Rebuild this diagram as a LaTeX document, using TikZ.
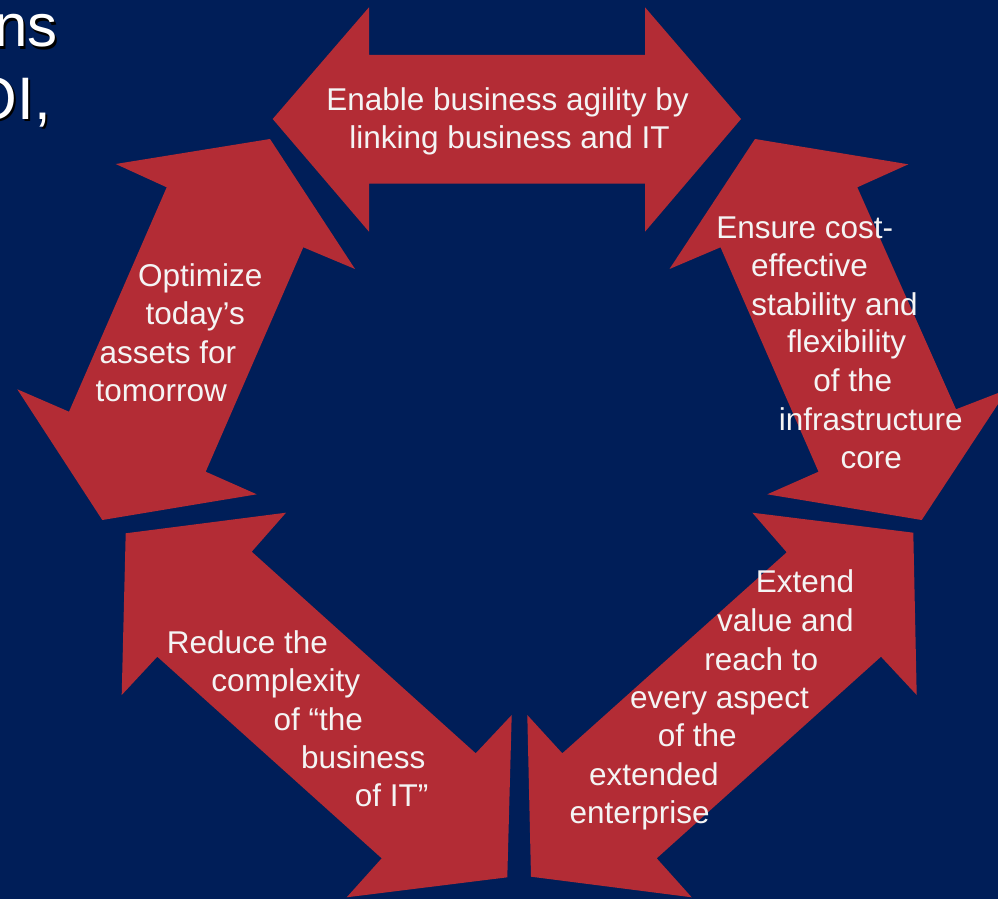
\documentclass[tikz,border=0pt]{standalone}
\usepackage{fontspec}
\setmainfont{Liberation Sans}
\definecolor{navy}{RGB}{0,30,88}
\definecolor{arrowred}{RGB}{179,44,53}
\definecolor{txt}{RGB}{244,244,244}
\begin{document}
\begin{tikzpicture}[x=1pt,y=-1pt,
  arrowshape/.style={fill=arrowred,draw=none},
  lbl/.style={text=txt,inner sep=0pt,anchor=base,font=\fontsize{31.5}{38}\selectfont},
  ttl/.style={inner sep=0pt,anchor=base east,text=white,font=\fontsize{60}{72}\selectfont},
  ttlshadow/.style={ttl,text=black}]
\fill[navy] (0,0) rectangle (998,899);
\clip (0,0) rectangle (998,899);
% title fragments
\node[ttlshadow] (t1s) at (60,49) {ns};
\node[ttl] (t1) at (58,47) {ns};
\node[ttlshadow] (t2s) at (53,121) {OI,};
\node[ttl] (t2) at (51,119) {OI,};
% arrows
\fill[arrowshape] (272.7,119) -- (369,7.3) -- (369,55) -- (645,55) -- (645,7.3) -- (741,119) -- (645,231.7) -- (645,183.7) -- (369,183.7) -- (369,231.7) -- cycle;
\fill[arrowshape] (270,139) -- (355,269) -- (303.3,247.3) -- (205.7,471.7) -- (256.7,494.3) -- (102.3,520) -- (17.3,389.3) -- (69,411.7) -- (166.7,187.3) -- (115.7,164) -- cycle;
\fill[arrowshape] (755,139) -- (908.3,164.3) -- (857.3,187.3) -- (956,409.3) -- (1007.7,389.3) -- (921.7,520) -- (767.3,494.3) -- (818.5,471.7) -- (720.5,247.3) -- (669.5,269) -- cycle;
\fill[arrowshape] (125.7,533.3) -- (286,512.7) -- (251.7,551.7) -- (475.7,753.3) -- (511.7,715) -- (507.3,877.3) -- (346.7,897.3) -- (381.7,858.3) -- (157.3,656.7) -- (121.7,695) -- cycle;
\fill[arrowshape] (913.3,532.7) -- (916.7,695) -- (881,656.7) -- (656.7,858.3) -- (691.7,897.3) -- (531,876.7) -- (527.3,715) -- (562.3,753.3) -- (786.7,552.3) -- (752.3,512.7) -- cycle;
% top label
\node[lbl] (a1) at (507.5,110) {Enable business agility by};
\node[lbl] (a2) at (509.5,148.3) {linking business and IT};
% left label
\node[lbl] (b1) at (200.3,286.7) {Optimize};
\node[lbl] (b2) at (195.3,324.3) {today’s};
\node[lbl] (b3) at (167.8,363.3) {assets for};
\node[lbl] (b4) at (161.2,401.7) {tomorrow};
% right label
\node[lbl] (c1) at (804.7,238.3) {Ensure cost-};
\node[lbl] (c2) at (809.5,276.7) {effective};
\node[lbl] (c3) at (834.5,315) {stability and};
\node[lbl] (c4) at (846.7,352.7) {flexibility};
\node[lbl] (c5) at (852.8,391.7) {of the};
\node[lbl] (c6) at (870.8,430) {infrastructure};
\node[lbl] (c7) at (871.3,468.3) {core};
% bottom-left label
\node[lbl] (d1) at (247.5,653.3) {Reduce the};
\node[lbl] (d2) at (285.8,691.7) {complexity};
\node[lbl] (d3) at (318.3,730) {of “the};
\node[lbl] (d4) at (363.3,768.3) {business};
\node[lbl] (d5) at (391.7,806.7) {of IT”};
% bottom-right label
\node[lbl] (e1) at (805,592.7) {Extend};
\node[lbl] (e2) at (785.3,631.7) {value and};
\node[lbl] (e3) at (761.2,670) {reach to};
\node[lbl] (e4) at (719.5,708.3) {every aspect};
\node[lbl] (e5) at (697.2,746.7) {of the};
\node[lbl] (e6) at (653.8,785) {extended};
\node[lbl] (e7) at (639.7,823.3) {enterprise};
\end{tikzpicture}
\end{document}
